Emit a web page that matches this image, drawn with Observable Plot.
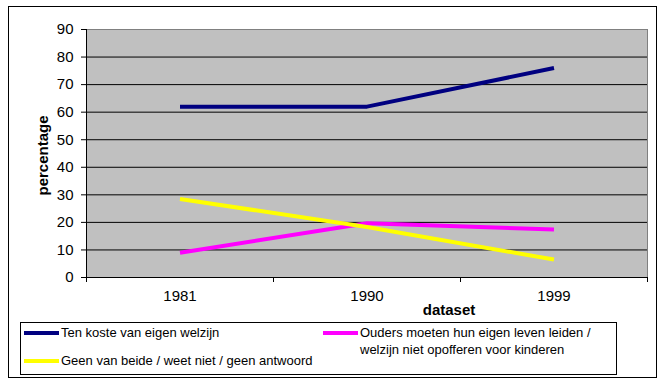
<!DOCTYPE html>
<html>
<head>
<meta charset="utf-8">
<script src="https://cdn.jsdelivr.net/npm/d3@7"></script>
<script src="https://cdn.jsdelivr.net/npm/@observablehq/plot@0.6"></script>
<style>
  html, body { margin: 0; padding: 0; background: #fff; }
  #wrap { position: relative; width: 662px; height: 387px; overflow: hidden; font-family: "Liberation Sans", Arial, sans-serif; }
  #outer { position: absolute; left: 8px; top: 6px; width: 649px; height: 372px; border: 1px solid #000; box-sizing: border-box; }
  #chart { position: absolute; left: 0; top: 0; }
  #legend { position: absolute; left: 20px; top: 322px; width: 597px; height: 53px; border: 1px solid #000; box-sizing: border-box; background: #fff; font-size: 13px; color: #000; }
  .item { position: absolute; display: flex; align-items: flex-start; line-height: 17px; }
  .swatch { width: 35px; height: 4px; margin-top: 7px; margin-right: 2px; flex: none; }
</style>
</head>
<body>
<div id="wrap">
  <div id="outer"></div>
  <div id="chart"></div>
  <div id="legend"></div>
</div>
<script>
const years = ["1981", "1990", "1999"];
const tenKoste = [62, 62, 76];
const ouders = [9, 19.7, 17.4];
const geen = [28.5, 18.3, 6.5];
const seriesNames = [
  "Ten koste van eigen welzijn",
  "Ouders moeten hun eigen leven leiden / welzijn niet opofferen voor kinderen",
  "Geen van beide / weet niet / geen antwoord"
];
const legendLines = [
  ["Ten koste van eigen welzijn"],
  ["Ouders moeten hun eigen leven leiden /", "welzijn niet opofferen voor kinderen"],
  ["Geen van beide / weet niet / geen antwoord"]
];
const colors = ["#000080", "#FF00FF", "#FFFF00"];
const yTicks = [0, 10, 20, 30, 40, 50, 60, 70, 80, 90];

const seriesValues = [tenKoste, ouders, geen];
const data = [];
seriesValues.forEach((vals, s) => vals.forEach((v, i) => data.push({series: seriesNames[s], pos: i + 0.5, year: years[i], value: v})));

const chart = Plot.plot({
  width: 662,
  height: 322,
  marginLeft: 86,
  marginRight: 15,
  marginTop: 29,
  marginBottom: 45,
  style: {fontFamily: "'Liberation Sans', Arial, sans-serif", fontSize: "15px", background: "transparent", color: "black", overflow: "visible"},
  x: {domain: [0, years.length], axis: null},
  y: {domain: [0, 90], axis: null},
  color: {domain: seriesNames, range: colors},
  marks: [
    Plot.frame({fill: "#C0C0C0", stroke: "#808080"}),
    Plot.ruleY(yTicks.filter(d => d > 0 && d < 90), {stroke: "black", strokeWidth: 1}),
    Plot.ruleX([0], {stroke: "black"}),
    Plot.ruleY([0], {stroke: "black"}),
    Plot.axisY({ticks: yTicks, tickSize: 5, tickPadding: 8, tickFormat: d => String(d), label: null, stroke: "black"}),
    Plot.axisX({ticks: d3.range(years.length + 1), tickSize: 5, tickFormat: () => "", label: null, stroke: "black"}),
    Plot.axisX({ticks: years.map((d, i) => i + 0.5), tickSize: 0, tickPadding: 13, tickFormat: t => years[Math.floor(t)], label: null}),
    Plot.line(data, {x: "pos", y: "value", z: "series", stroke: "series", strokeWidth: 4, strokeLinecap: "butt", strokeLinejoin: "round"}),
    Plot.text(["percentage"], {text: d => d, frameAnchor: "left", textAnchor: "middle", dx: -43, dy: 2, rotate: -90, fontWeight: "bold", fontSize: 15}),
    Plot.text(["dataset"], {text: d => d, frameAnchor: "bottom", dx: 82, dy: 37, fontWeight: "bold", fontSize: 15})
  ]
});
document.getElementById("chart").appendChild(chart);

// Legend built from the series arrays
const legend = document.getElementById("legend");
const legendPos = [[3, 1], [302, 1], [3, 29]];
seriesNames.forEach((name, s) => {
  const item = document.createElement("div");
  item.className = "item";
  item.style.left = legendPos[s][0] + "px";
  item.style.top = legendPos[s][1] + "px";
  const sw = document.createElement("span");
  sw.className = "swatch";
  sw.style.background = colors[s];
  const txt = document.createElement("span");
  txt.innerHTML = legendLines[s].join("<br>");
  item.appendChild(sw);
  item.appendChild(txt);
  legend.appendChild(item);
});
</script>
</body>
</html>
